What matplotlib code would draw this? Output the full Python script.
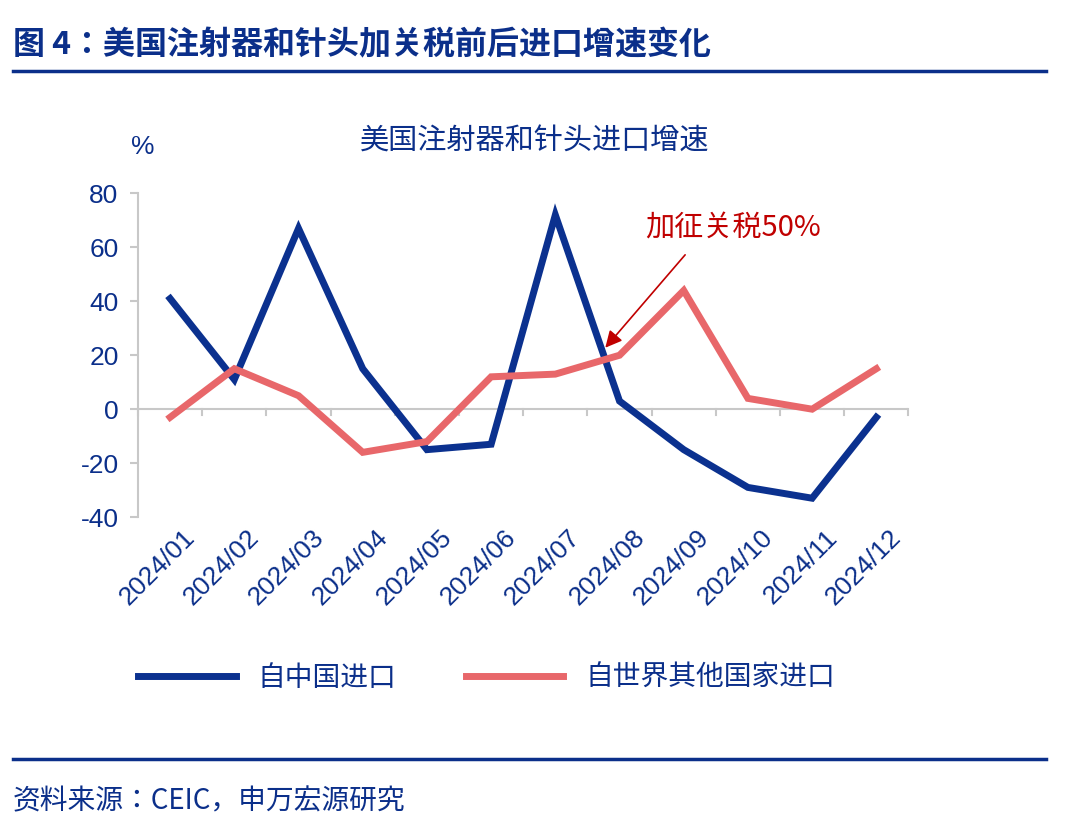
import matplotlib
matplotlib.use("Agg")
import matplotlib.pyplot as plt
from matplotlib.lines import Line2D
from matplotlib import font_manager as fm

cjk = None
for f in fm.findSystemFonts():
    n = f.lower()
    if "notosanscjk" in n.replace("-", "").replace("_", "") or "cjk" in n:
        try:
            fm.fontManager.addfont(f)
            name = fm.FontProperties(fname=f).get_name()
            if cjk is None or "SC" in name:
                cjk = name
        except Exception:
            pass
plt.rcParams["font.family"] = [cjk or "Noto Sans CJK SC", "DejaVu Sans"]

months = ["2024/01","2024/02","2024/03","2024/04","2024/05","2024/06",
          "2024/07","2024/08","2024/09","2024/10","2024/11","2024/12"]
china = [41, 11, 67, 15, -15, -13, 72, 3, -15, -29, -33, -3]
others = [-3, 15, 5, -16, -12, 12, 13, 20, 44, 4, 0, 15]
yticks = [-40, -20, 0, 20, 40, 60, 80]

BLUE = "#0b318f"
RED = "#e8676a"
TXT = "#0b2f8a"

fig = plt.figure(figsize=(10.7, 8.3), dpi=100)
ax = fig.add_axes([0.129, 0.377, 0.72, 0.39])
x = list(range(len(months)))
ax.plot(x, china, color=BLUE, lw=5, solid_joinstyle="miter")
ax.plot(x, others, color=RED, lw=5, solid_joinstyle="miter")
ax.set_xlim(-0.5, 11.5)
ax.set_ylim(-40, 80)
ax.set_yticks(yticks)
ax.set_yticklabels([str(v) for v in yticks], fontsize=19, color=TXT, fontfamily="Liberation Sans")
for s in ["top", "right", "bottom"]:
    ax.spines[s].set_visible(False)
ax.spines["left"].set_color("#c8c8c8")
ax.spines["left"].set_linewidth(1.5)
ax.axhline(0, color="#c8c8c8", lw=1.5, zorder=0)
ax.tick_params(axis="y", color="#c8c8c8", length=6, width=1.5, pad=8)
ax.set_xticks([])
for i in range(13):
    ax.plot([i - 0.5, i - 0.5], [0, -2.2], color="#c8c8c8", lw=1.5, clip_on=False, zorder=0)
for i, m in enumerate(months):
    ax.text(i + 0.2, -43, m, rotation=45, ha="right", va="top", fontsize=19,
            color=TXT, fontfamily="Liberation Sans", rotation_mode="anchor")

ax.annotate("", xy=(6.75, 22), xytext=(8.05, 58),
            arrowprops=dict(arrowstyle="-|>", color="#c00000", lw=1.2, mutation_scale=25))
ax.text(7.4, 67, "加征关税50%", color="#c00000", fontsize=21, ha="left", va="center")

fig.text(0.122, 0.815, "%", fontsize=19, color=TXT, fontfamily="Liberation Sans")
fig.text(0.5, 0.82, "美国注射器和针头进口增速", fontsize=21, color=TXT, ha="center")

fig.text(0.012, 0.945, "图 4：美国注射器和针头加关税前后进口增速变化", fontsize=23,
         fontweight="bold", color=TXT, va="center")
fig.add_artist(Line2D([0.012, 0.978], [0.914, 0.914], color=TXT, lw=2.5))
fig.add_artist(Line2D([0.012, 0.978], [0.085, 0.085], color=TXT, lw=2.5))
fig.text(0.012, 0.035, "资料来源：CEIC，申万宏源研究", fontsize=20, color=TXT, va="center")

handles = [Line2D([], [], color=BLUE, lw=5), Line2D([], [], color=RED, lw=5)]
fig.legend(handles, ["自中国进口", "自世界其他国家进口"], loc="center",
           bbox_to_anchor=(0.455, 0.183), ncol=2, frameon=False, fontsize=20,
           handlelength=3.5, columnspacing=2.5, labelcolor=TXT)

fig.savefig("out.png", dpi=100)
